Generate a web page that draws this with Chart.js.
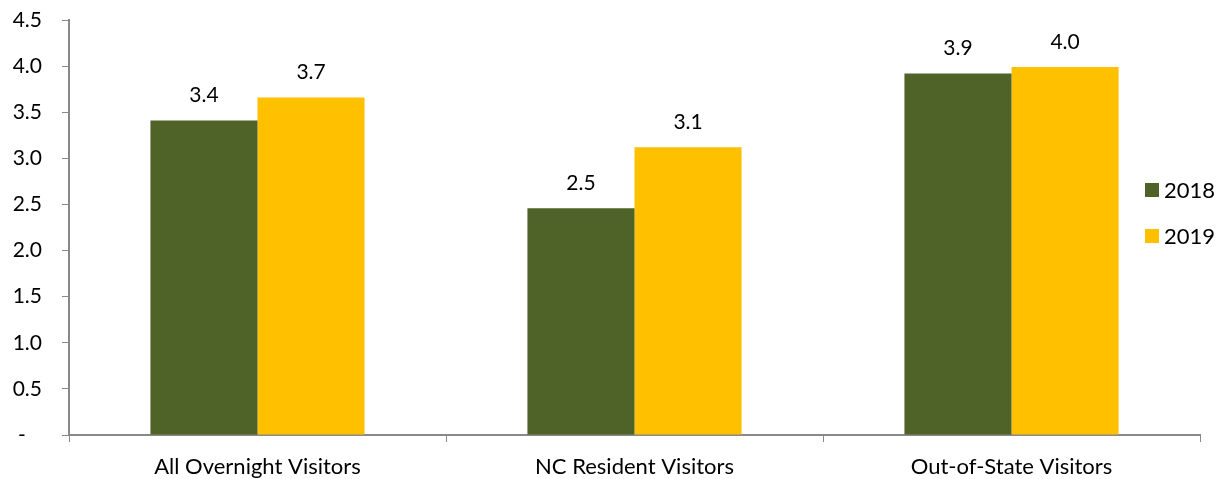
<!DOCTYPE html>
<html>
<head>
<meta charset="utf-8">
<script src="https://cdn.jsdelivr.net/npm/chart.js@4"></script>
<style>
  html, body { margin: 0; padding: 0; background: #fff; }
  #wrap { width: 1225px; height: 479px; }
</style>
</head>
<body>
<div id="wrap"><canvas id="visualChart" width="1225" height="479"></canvas></div>
<script>
const categories = ["All Overnight Visitors", "NC Resident Visitors", "Out-of-State Visitors"];
const years = ["2018", "2019"];
const values2018 = [3.41, 2.46, 3.92];
const values2019 = [3.66, 3.12, 3.99];
const yTicks = [0, 0.5, 1, 1.5, 2, 2.5, 3, 3.5, 4, 4.5];

const FONT = "Lato, 'Open Sans', sans-serif";

// value labels above each bar
const barLabels = {
  id: "barLabels",
  afterDatasetsDraw(chart) {
    const ctx = chart.ctx;
    ctx.save();
    ctx.font = "21px " + FONT;
    ctx.fillStyle = "#000";
    ctx.textAlign = "center";
    ctx.textBaseline = "middle";
    chart.data.datasets.forEach((ds, i) => {
      chart.getDatasetMeta(i).data.forEach((bar, j) => {
        ctx.fillText(ds.data[j].toFixed(1), bar.x, bar.y - 25);
      });
    });
    ctx.restore();
  },
};

// legend sits inside the plot, on the right
const sideLegend = {
  id: "sideLegend",
  afterDraw(chart) {
    const ctx = chart.ctx;
    const area = chart.chartArea;
    ctx.save();
    ctx.font = "22px " + FONT;
    ctx.textBaseline = "middle";
    chart.data.datasets.forEach((ds, i) => {
      const y = 190 + i * 46;
      ctx.fillStyle = ds.backgroundColor;
      ctx.fillRect(area.right - 55, y - 7, 14, 14);
      ctx.fillStyle = "#000";
      ctx.fillText(ds.label, area.right - 36, y + 1);
    });
    ctx.restore();
  },
};

new Chart(document.querySelector("#visualChart").getContext("2d"), {
  type: "bar",
  data: {
    labels: categories,
    datasets: [
      {
        label: years[0],
        data: values2018,
        backgroundColor: "#4F6228",
        categoryPercentage: 0.568,
        barPercentage: 1,
      },
      {
        label: years[1],
        data: values2019,
        backgroundColor: "#FFC000",
        categoryPercentage: 0.568,
        barPercentage: 1,
      },
    ],
  },
  options: {
    responsive: false,
    animation: false,
    layout: { padding: { top: 20, right: 25, left: 0, bottom: 0 } },
    plugins: {
      legend: { display: false },
      tooltip: { enabled: false },
    },
    scales: {
      x: {
        grid: { offset: true, drawOnChartArea: false, tickLength: 7, color: "#898989" },
        border: { color: "#898989", width: 2 },
        ticks: { color: "#000", font: { family: FONT, size: 22 }, padding: 12 },
        afterFit: (scale) => { scale.height = 44; },
      },
      y: {
        min: 0,
        max: 4.5,
        afterBuildTicks: (scale) => { scale.ticks = yTicks.map((v) => ({ value: v })); },
        grid: { drawOnChartArea: false, tickLength: 7, color: "#898989" },
        border: { color: "#898989", width: 2 },
        ticks: {
          color: "#000",
          font: { family: FONT, size: 21 },
          padding: 20,
          callback: (v) => (v === 0 ? "-   " : Number(v).toFixed(1)),
        },
        afterFit: (scale) => {
          scale.width = 69;
          scale.paddingTop = 0;
          scale.paddingBottom = 0;
        },
      },
    },
  },
  plugins: [barLabels, sideLegend],
});
</script>
</body>
</html>
